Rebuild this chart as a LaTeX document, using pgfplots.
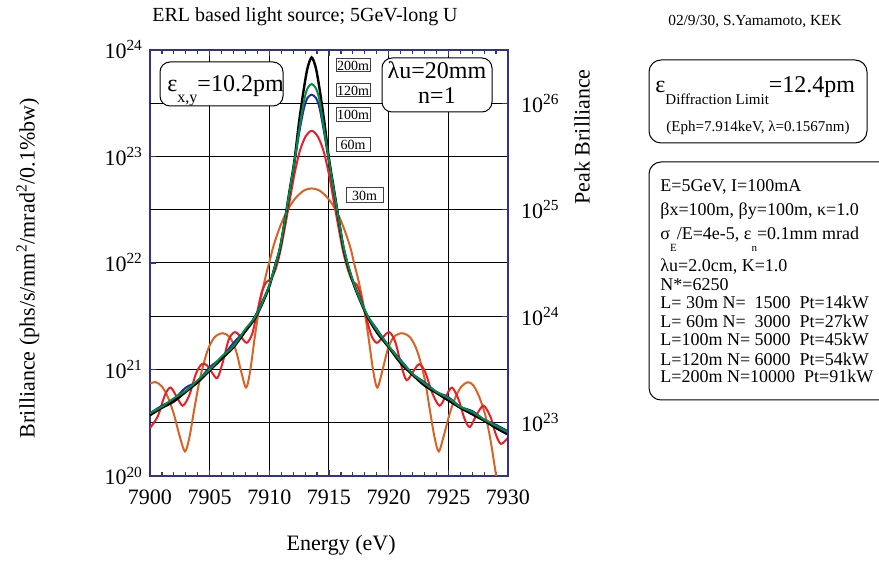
\documentclass[border=0pt]{standalone}
\usepackage{fontspec}
\setmainfont{Liberation Serif}
\usepackage{pgfplots}
\pgfplotsset{compat=1.18}

\definecolor{frameblue}{RGB}{48,48,150}
\definecolor{c30}{RGB}{215,100,35}
\definecolor{c60}{RGB}{235,30,35}
\definecolor{c100}{RGB}{40,40,165}
\definecolor{c120}{RGB}{0,140,70}

\newcommand{\fs}[1]{\fontsize{#1}{#1}\selectfont}

\begin{document}
\begin{tikzpicture}
\path[use as bounding box] (0,0) rectangle (439.5pt,281.5pt);

% ---------------- main axis (brilliance) ----------------
\begin{axis}[
  at={(75pt,43.5pt)}, anchor=south west,
  width=179pt, height=213pt, scale only axis,
  xmin=7900, xmax=7930, ymin=1e20, ymax=1e24, ymode=log,
  /pgf/number format/assume math mode=true,
  axis line style={draw=frameblue, line width=1pt},
  xtick={7900,7905,7910,7915,7920,7925,7930},
  xticklabels={7900,7905,7910,7915,7920,7925,7930},
  scaled x ticks=false,
  minor x tick num=4,
  ytick={1e20,1e21,1e22,1e23,1e24},
  yticklabels={10\textsuperscript{20},10\textsuperscript{21},10\textsuperscript{22},10\textsuperscript{23},10\textsuperscript{24}},
  yminorticks=false,
  ytick pos=left, xtick pos=both,
  tick align=inside,
  major tick length=3pt, minor tick length=2pt,
  tick style={draw=frameblue, line width=0.6pt},
  grid=major, grid style={black, line width=0.5pt},
  extra y ticks={3.162e20,3.162e21,3.162e22,3.162e23},
  extra y tick labels={},
  extra y tick style={major tick length=0pt, grid=major},
  tick label style={font=\fs{11}},
  xticklabel style={yshift=-3.5pt},
  every axis x label/.style={at={(axis description cs:0.534,-0.162)}, anchor=center, font=\fs{11}},
  every axis y label/.style={at={(axis description cs:-0.341,0.488)}, anchor=center, rotate=90, font=\fs{11}},
  xlabel={Energy (eV)},
  ylabel={Brilliance (phs/s/mm\textsuperscript{2}/mrad\textsuperscript{2}/0.1\%bw)},
  clip=true,
]
% L = 30 m
\addplot[c30, line width=1pt, smooth] coordinates {
(7900.0,7.41e20) (7900.5,7.59e20) (7901.0,6.92e20) (7901.5,5.50e20) (7902.0,3.80e20)
(7902.5,2.34e20) (7902.93,1.70e20) (7903.3,2.29e20) (7903.7,4.17e20) (7904.2,8.32e20)
(7904.8,1.48e21) (7905.4,2.00e21) (7906.1,2.19e21) (7906.7,2.00e21) (7907.2,1.51e21)
(7907.6,1.00e21) (7908.05,6.76e20) (7908.4,9.77e20) (7908.8,2.09e21) (7909.2,4.07e21)
(7909.6,6.76e21) (7910.0,1.02e22) (7910.4,1.51e22) (7911.0,2.34e22) (7911.6,3.24e22)
(7912.2,4.07e22) (7912.9,4.79e22) (7913.55,5.01e22) (7914.2,4.79e22) (7914.9,4.07e22)
(7915.5,3.24e22) (7916.1,2.34e22) (7916.75,1.45e22) (7917.1,1.00e22) (7917.5,6.61e21)
(7917.9,3.98e21) (7918.3,2.04e21) (7918.7,9.77e20) (7919.05,6.76e20) (7919.5,1.00e21)
(7919.9,1.51e21) (7920.4,2.00e21) (7921.1,2.19e21) (7921.8,2.00e21) (7922.4,1.48e21)
(7923.0,8.32e20) (7923.45,4.17e20) (7923.85,2.29e20) (7924.2,1.70e20) (7924.6,2.34e20)
(7925.1,3.80e20) (7925.6,5.50e20) (7926.1,6.92e20) (7926.65,7.59e20) (7927.1,7.08e20)
(7927.6,5.50e20) (7928.1,3.72e20) (7928.5,2.29e20) (7928.9,1.20e20) (7929.2,7.08e19)
};
% L = 60 m
\addplot[c60, line width=1pt, smooth] coordinates {
(7900.0,2.82e20) (7900.65,3.63e20) (7901.25,5.75e20) (7901.73,6.76e20) (7902.25,5.50e20)
(7902.75,4.57e20) (7903.3,5.75e20) (7903.85,9.12e20) (7904.33,1.12e21) (7904.75,1.10e21)
(7905.2,9.33e20) (7905.65,8.32e20) (7906.1,1.17e21) (7906.6,1.91e21) (7907.1,2.24e21)
(7907.6,2.04e21) (7908.1,1.78e21) (7908.55,2.14e21) (7908.95,3.31e21) (7909.35,5.25e21)
(7909.75,6.61e21) (7910.15,7.08e21) (7910.55,8.91e21) (7910.9,1.26e22) (7911.25,2.00e22)
(7911.65,3.55e22) (7912.1,6.76e22) (7912.55,1.12e23) (7913.05,1.55e23) (7913.55,1.74e23)
(7914.05,1.55e23) (7914.55,1.12e23) (7915.0,6.76e22) (7915.45,3.55e22) (7915.85,2.00e22)
(7916.2,1.26e22) (7916.55,8.91e21) (7916.95,6.76e21) (7917.3,6.31e21) (7917.65,5.01e21)
(7918.05,3.31e21) (7918.55,2.09e21) (7919.0,1.78e21) (7919.5,2.00e21) (7920.05,2.24e21)
(7920.55,1.82e21) (7921.05,1.10e21) (7921.5,7.94e20) (7922.05,9.55e20) (7922.55,1.12e21)
(7923.05,9.55e20) (7923.65,6.03e20) (7924.25,4.57e20) (7924.75,5.50e20) (7925.3,6.76e20)
(7925.85,5.25e20) (7926.35,3.47e20) (7926.8,2.88e20) (7927.35,3.72e20) (7927.95,4.57e20)
(7928.55,3.55e20) (7928.95,2.51e20) (7929.4,2.00e20) (7930.0,2.29e20)
};
% L = 100 m
\addplot[c100, line width=1pt, smooth] coordinates {
(7900.0,3.89e20) (7901.0,4.57e20) (7902.0,5.25e20) (7903.0,6.76e20) (7904.0,7.76e20)
(7905.0,1.05e21) (7906.0,1.29e21) (7907.0,1.78e21) (7908.0,2.34e21) (7908.8,3.16e21)
(7909.5,4.57e21) (7910.0,6.17e21) (7910.5,9.33e21) (7910.9,1.38e22) (7911.3,2.45e22)
(7911.7,4.57e22) (7912.1,8.51e22) (7912.5,1.66e23) (7912.9,2.82e23) (7913.2,3.55e23)
(7913.55,3.80e23) (7913.9,3.55e23) (7914.2,2.88e23) (7914.6,1.66e23) (7915.0,8.71e22)
(7915.4,4.79e22) (7915.8,2.57e22) (7916.2,1.41e22) (7916.6,9.33e21) (7917.1,6.31e21)
(7917.6,4.68e21) (7918.2,3.24e21) (7919.0,2.40e21) (7920.0,1.66e21) (7921.0,1.23e21)
(7922.0,9.12e20) (7923.0,7.59e20) (7924.0,6.17e20) (7925.0,5.50e20) (7926.0,4.47e20)
(7927.0,4.07e20) (7928.0,3.39e20) (7929.0,3.02e20) (7930.0,2.63e20)
};
% L = 200 m
\addplot[black, line width=1.2pt, smooth] coordinates {
(7900.0,3.72e20) (7901.0,4.37e20) (7902.0,5.01e20) (7903.0,6.17e20) (7904.0,7.59e20)
(7905.0,9.77e20) (7906.0,1.26e21) (7907.0,1.62e21) (7908.0,2.29e21) (7908.8,3.02e21)
(7909.5,4.37e21) (7910.0,6.03e21) (7910.5,9.55e21) (7910.9,1.38e22) (7911.3,2.51e22)
(7911.7,4.79e22) (7912.1,9.12e22) (7912.5,2.14e23) (7912.9,4.37e23) (7913.2,6.76e23)
(7913.55,8.51e23) (7913.9,6.76e23) (7914.2,4.37e23) (7914.6,2.14e23) (7915.0,9.55e22)
(7915.4,5.01e22) (7915.8,2.63e22) (7916.2,1.41e22) (7916.6,9.33e21) (7917.1,6.17e21)
(7917.6,4.47e21) (7918.2,3.16e21) (7919.0,2.24e21) (7920.0,1.62e21) (7921.0,1.15e21)
(7922.0,8.91e20) (7923.0,7.08e20) (7924.0,6.03e20) (7925.0,5.13e20) (7926.0,4.37e20)
(7927.0,3.80e20) (7928.0,3.31e20) (7929.0,2.82e20) (7930.0,2.45e20)
};
% L = 120 m
\addplot[c120, line width=1pt, smooth] coordinates {
(7900.0,3.89e20) (7901.0,4.47e20) (7902.0,5.37e20) (7903.0,6.31e20) (7904.0,7.94e20)
(7905.0,1.00e21) (7906.0,1.32e21) (7907.0,1.66e21) (7908.0,2.40e21) (7908.8,3.09e21)
(7909.5,4.47e21) (7910.0,6.17e21) (7910.5,9.55e21) (7910.9,1.41e22) (7911.3,2.51e22)
(7911.7,4.68e22) (7912.1,8.91e22) (7912.5,1.78e23) (7912.9,3.31e23) (7913.2,4.37e23)
(7913.55,4.79e23) (7913.9,4.37e23) (7914.2,3.39e23) (7914.6,1.78e23) (7915.0,9.12e22)
(7915.4,4.90e22) (7915.8,2.63e22) (7916.2,1.45e22) (7916.6,9.55e21) (7917.1,6.31e21)
(7917.6,4.57e21) (7918.2,3.24e21) (7919.0,2.34e21) (7920.0,1.66e21) (7921.0,1.20e21)
(7922.0,9.12e20) (7923.0,7.41e20) (7924.0,6.17e20) (7925.0,5.37e20) (7926.0,4.47e20)
(7927.0,3.98e20) (7928.0,3.39e20) (7929.0,2.95e20) (7930.0,2.57e20)
};
\end{axis}

% ---------------- right axis (peak brilliance) ----------------
\begin{axis}[
  at={(75pt,43.5pt)}, anchor=south west,
  width=179pt, height=213pt, scale only axis,
  xmin=7900, xmax=7930, ymin=3.162e22, ymax=3.162e26, ymode=log,
  /pgf/number format/assume math mode=true,
  hide x axis, axis y line*=right,
  axis line style={draw=frameblue, line width=1pt},
  ytick={1e23,1e24,1e25,1e26},
  yticklabels={10\textsuperscript{23},10\textsuperscript{24},10\textsuperscript{25},10\textsuperscript{26}},
  yminorticks=false,
  tick align=inside, major tick length=3pt,
  tick style={draw=frameblue, line width=0.6pt},
  tick label style={font=\fs{11}},
  yticklabel style={xshift=3pt},
  every axis y label/.style={at={(axis description cs:1.207,0.796)}, anchor=center, rotate=90, font=\fs{11}},
  ylabel={Peak Brilliance},
]
\end{axis}

% ---------------- annotations (positions in pixels, origin top left) ----------------
\begin{scope}[x=0.5pt, y=-0.5pt, yshift=281.5pt]
  % titles
  \node[font=\fs{10}] at (305,17) {ERL based light source; 5GeV-long U};
  \node[font=\fs{7.7}] at (755,22) {02/9/30, S.Yamamoto, KEK};

  % emittance box inside the plot
  \draw[fill=white, line width=0.5pt, rounded corners=5pt] (160,62) rectangle (283,106);
  \node[anchor=base west, inner sep=0pt] at (167,92)
    {\fs{12}ε\raisebox{-5.5pt}{\fs{8}x,y}=10.2pm};

  % undulator box inside the plot
  \draw[fill=white, line width=0.5pt, rounded corners=5pt] (382,58) rectangle (492,112);
  \node[anchor=base, font=\fs{12}, inner sep=0pt] at (437,79) {λu=20mm};
  \node[anchor=base, font=\fs{12}, inner sep=0pt] at (437,104) {n=1};

  % length tags
  \foreach \ya/\yb/\lab in {59/72/200m, 84/97/120m, 108/122/100m, 138/152/60m} {
    \draw[fill=white, draw=black!75, line width=0.5pt] (336,\ya) rectangle (370,\yb);
    \node[font=\fs{7}, inner sep=0pt] at (353,{(\ya+\yb)/2}) {\lab};
  }
  \draw[fill=white, draw=black!75, line width=0.5pt] (346,188) rectangle (383,203);
  \node[font=\fs{7}, inner sep=0pt] at (364.5,195.5) {30m};

  % diffraction limit box
  \draw[line width=0.5pt, rounded corners=6pt] (649,60) rectangle (867,143);
  \node[anchor=base west, inner sep=0pt] at (655,93)
    {\fs{12}ε\raisebox{-6pt}{\fs{7.5}Diffraction Limit}=12.4pm};
  \node[font=\fs{7.5}, inner sep=0pt] at (758,128)
    {(Eph=7.914keV, λ=0.1567nm)};

  % machine parameter box
  \draw[line width=0.5pt, rounded corners=6pt] (649,162) rectangle (900,400);
  \begin{scope}[every node/.style={anchor=base west, inner sep=0pt, font=\fs{9}}]
    \node at (660,192) {E=5GeV, I=100mA};
    \node at (660,216) {βx=100m, βy=100m, κ=1.0};
    \node at (660,240) {σ\raisebox{-6pt}{\fs{5.5}E}/E=4e-5, ε\raisebox{-6pt}{\fs{5.5}n}=0.1mm mrad};
    \node at (660,272) {λu=2.0cm, K=1.0};
    \node at (660,291) {N*=6250};
    \node at (660,309) {L=\ 30m N=\ \ 1500\ \ Pt=14kW};
    \node at (660,328) {L=\ 60m N=\ \ 3000\ \ Pt=27kW};
    \node at (660,346) {L=100m N=\ 5000\ \ Pt=45kW};
    \node at (660,365) {L=120m N=\ 6000\ \ Pt=54kW};
    \node at (660,383) {L=200m N=10000\ \ Pt=91kW};
  \end{scope}
\end{scope}
\end{tikzpicture}
\end{document}
